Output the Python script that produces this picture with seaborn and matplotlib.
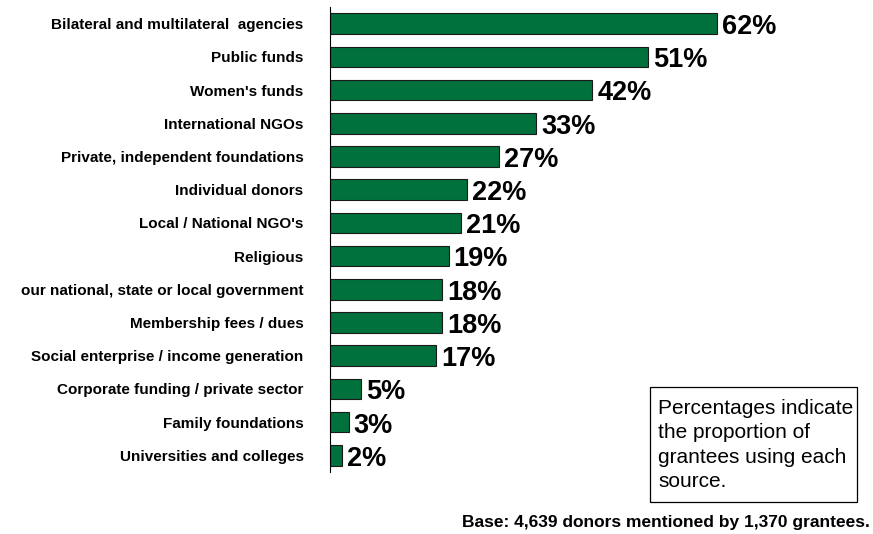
import matplotlib
matplotlib.use("Agg")
import matplotlib.pyplot as plt
from matplotlib.patches import Rectangle
import seaborn as sns
import pandas as pd

# funding sources and share of grantees using each (%)
sources = [
    "Bilateral and multilateral  agencies",
    "Public funds",
    "Women's funds",
    "International NGOs",
    "Private, independent foundations",
    "Individual donors",
    "Local / National NGO's",
    "Religious",
    "our national, state or local government",
    "Membership fees / dues",
    "Social enterprise / income generation",
    "Corporate funding / private sector",
    "Family foundations",
    "Universities and colleges",
]
shares = [62, 51, 42, 33, 27, 22, 21, 19, 18, 18, 17, 5, 3, 2]

df = pd.DataFrame({"source": sources, "share": shares})

sns.set_style("white")
plt.rcParams["font.family"] = ["Liberation Sans", "DejaVu Sans"]
plt.rcParams["text.color"] = "black"
plt.rcParams["ytick.color"] = "black"

fig = plt.figure(figsize=(8.73, 5.34), dpi=100)
ax = fig.add_axes([330 / 873, 1 - 472 / 534, 543 / 873, 465 / 534])

sns.barplot(data=df, x="share", y="source", orient="h", color="#00703C",
            saturation=1, edgecolor="#1a1a1a", linewidth=0.8, width=0.62, ax=ax)

ax.set_xlim(0, 87)
ax.set_ylim(len(sources) - 0.5, -0.5)
ax.set_xlabel("")
ax.set_ylabel("")
ax.set_xticks([])
ax.set_yticks(range(len(sources)))
ax.set_yticklabels(sources, fontsize=11, fontweight="bold")
ax.tick_params(axis="y", which="major", length=0, pad=19)
ax.set_yticks([i - 0.5 for i in range(len(sources) + 1)], minor=True)
ax.tick_params(axis="y", which="minor", length=5, width=0.8, direction="out", color="black")
for s in ["top", "right", "bottom"]:
    ax.spines[s].set_visible(False)
ax.spines["left"].set_color("black")
ax.spines["left"].set_linewidth(0.8)

for i, v in enumerate(shares):
    ax.text(v + 0.8, i + 0.1, f"{v}%", va="center", ha="left",
            fontsize=19.5, fontweight="bold")

# note box
fig.patches.append(Rectangle((650 / 873, 1 - 502 / 534), 207 / 873, 115 / 534,
                             transform=fig.transFigure, facecolor="white",
                             edgecolor="black", linewidth=0.9))
fig.text(658 / 873, 1 - 399 / 534,
         "Percentages indicate\nthe proportion of\ngrantees using each\nsource.",
         ha="left", va="top", fontsize=15, linespacing=1.36)

fig.text(870 / 873, 1 - 522 / 534,
         "Base: 4,639 donors mentioned by 1,370 grantees.",
         ha="right", va="center", fontsize=12.5, fontweight="bold")

fig.savefig("out.png", dpi=100)
